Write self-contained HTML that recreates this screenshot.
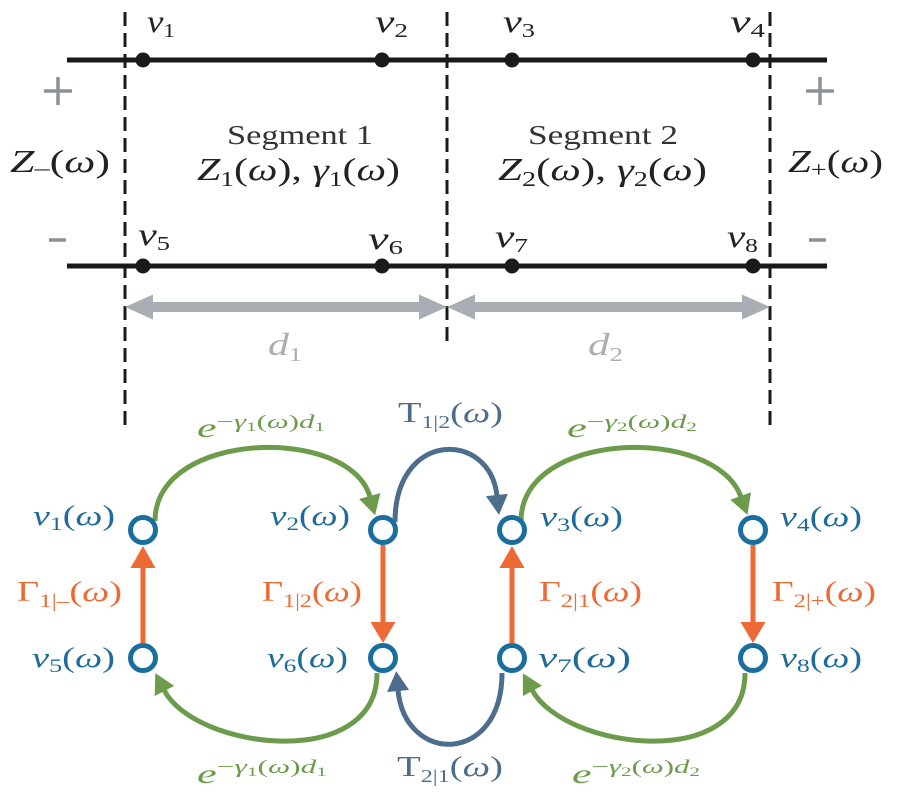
<!DOCTYPE html>
<html>
<head>
<meta charset="utf-8">
<style>
html,body{margin:0;padding:0;background:#fff;}
svg{display:block}
text{font-family:"Liberation Serif","DejaVu Serif",serif;}
.i{font-style:italic}
</style>
</head>
<body>
<svg width="900" height="800" viewBox="0 0 900 800" xmlns="http://www.w3.org/2000/svg">
<defs>
  <marker id="ag" markerUnits="userSpaceOnUse" markerWidth="22" markerHeight="22" viewBox="0 0 20 22" refX="1" refY="11" orient="auto">
    <path d="M0,0 L20,11 L0,22 z" fill="#6b9b4b"/>
  </marker>
  <marker id="ab" markerUnits="userSpaceOnUse" markerWidth="22" markerHeight="22" viewBox="0 0 20 22" refX="1" refY="11" orient="auto">
    <path d="M0,0 L20,11 L0,22 z" fill="#4d6d8d"/>
  </marker>
</defs>

<!-- dashed dividers -->
<line x1="125" y1="12" x2="125" y2="425" stroke="#1a1a1a" stroke-width="3" stroke-dasharray="14 7"/>
<line x1="447" y1="12" x2="447" y2="348" stroke="#1a1a1a" stroke-width="3" stroke-dasharray="14 7"/>
<line x1="770" y1="12" x2="770" y2="425" stroke="#1a1a1a" stroke-width="3" stroke-dasharray="14 7"/>

<!-- transmission lines -->
<line x1="67" y1="60" x2="827" y2="60" stroke="#1a1a1a" stroke-width="5"/>
<line x1="67" y1="266" x2="827" y2="266" stroke="#1a1a1a" stroke-width="5"/>
<g fill="#1a1a1a">
  <circle cx="143" cy="60" r="7.5"/><circle cx="382" cy="60" r="7.5"/>
  <circle cx="512" cy="60" r="7.5"/><circle cx="753" cy="60" r="7.5"/>
  <circle cx="143" cy="266" r="7.5"/><circle cx="382" cy="266" r="7.5"/>
  <circle cx="512" cy="266" r="7.5"/><circle cx="753" cy="266" r="7.5"/>
</g>

<!-- + and - signs -->
<g stroke="#8c9196" stroke-width="3.5">
  <line x1="44" y1="91" x2="72" y2="91"/><line x1="58" y1="77" x2="58" y2="105"/>
  <line x1="806" y1="91" x2="834" y2="91"/><line x1="820" y1="77" x2="820" y2="105"/>
  <line x1="49" y1="240" x2="66" y2="240"/>
  <line x1="809" y1="240" x2="826" y2="240"/>
</g>

<!-- gray double arrows -->
<polygon fill="#a9aeb4" points="125,307 153,294.5 153,302 419,302 419,294.5 447,307 419,319.5 419,312 153,312 153,319.5"/>
<polygon fill="#a9aeb4" points="447,307 475,294.5 475,302 742,302 742,294.5 770,307 742,319.5 742,312 475,312 475,319.5"/>

<!-- top labels v1..v8 -->
<g fill="#222">
  <text x="147" y="32" textLength="28" lengthAdjust="spacingAndGlyphs"><tspan class="i" font-size="32">v</tspan><tspan font-size="20" dy="5">1</tspan></text>
  <text x="375" y="32" textLength="33" lengthAdjust="spacingAndGlyphs"><tspan class="i" font-size="32">v</tspan><tspan font-size="20" dy="5">2</tspan></text>
  <text x="503" y="32" textLength="32" lengthAdjust="spacingAndGlyphs"><tspan class="i" font-size="32">v</tspan><tspan font-size="20" dy="5">3</tspan></text>
  <text x="730" y="32" textLength="35" lengthAdjust="spacingAndGlyphs"><tspan class="i" font-size="32">v</tspan><tspan font-size="20" dy="5">4</tspan></text>
  <text x="138" y="245" textLength="32" lengthAdjust="spacingAndGlyphs"><tspan class="i" font-size="32">v</tspan><tspan font-size="20" dy="5">5</tspan></text>
  <text x="368" y="249" textLength="35" lengthAdjust="spacingAndGlyphs"><tspan class="i" font-size="32">v</tspan><tspan font-size="20" dy="5">6</tspan></text>
  <text x="495" y="247" textLength="33" lengthAdjust="spacingAndGlyphs"><tspan class="i" font-size="32">v</tspan><tspan font-size="20" dy="5">7</tspan></text>
  <text x="727" y="247" textLength="31" lengthAdjust="spacingAndGlyphs"><tspan class="i" font-size="32">v</tspan><tspan font-size="20" dy="5">8</tspan></text>

  <text x="10" y="172" font-size="32" textLength="100" lengthAdjust="spacingAndGlyphs"><tspan class="i">Z</tspan><tspan font-size="22" dy="3">–</tspan><tspan dy="-3">(</tspan><tspan class="i">ω</tspan><tspan>)</tspan></text>
  <text x="788" y="172" font-size="32" textLength="95" lengthAdjust="spacingAndGlyphs"><tspan class="i">Z</tspan><tspan font-size="22" dy="5">+</tspan><tspan dy="-5">(</tspan><tspan class="i">ω</tspan><tspan>)</tspan></text>

  <text x="227" y="144" font-size="27" fill="#333" textLength="146" lengthAdjust="spacingAndGlyphs">Segment 1</text>
  <text x="528" y="144" font-size="27" fill="#333" textLength="150" lengthAdjust="spacingAndGlyphs">Segment 2</text>

  <text x="197" y="180" font-size="32" textLength="203" lengthAdjust="spacingAndGlyphs"><tspan class="i">Z</tspan><tspan font-size="21" dy="6">1</tspan><tspan dy="-6">(</tspan><tspan class="i">ω</tspan><tspan>), </tspan><tspan class="i">γ</tspan><tspan font-size="21" dy="6">1</tspan><tspan dy="-6">(</tspan><tspan class="i">ω</tspan><tspan>)</tspan></text>
  <text x="498" y="180" font-size="32" textLength="209" lengthAdjust="spacingAndGlyphs"><tspan class="i">Z</tspan><tspan font-size="21" dy="6">2</tspan><tspan dy="-6">(</tspan><tspan class="i">ω</tspan><tspan>), </tspan><tspan class="i">γ</tspan><tspan font-size="21" dy="6">2</tspan><tspan dy="-6">(</tspan><tspan class="i">ω</tspan><tspan>)</tspan></text>
</g>

<!-- d labels -->
<g fill="#a9aeb4">
  <text x="268" y="355" textLength="34" lengthAdjust="spacingAndGlyphs"><tspan class="i" font-size="32">d</tspan><tspan font-size="20" dy="6">1</tspan></text>
  <text x="588" y="355" textLength="35" lengthAdjust="spacingAndGlyphs"><tspan class="i" font-size="32">d</tspan><tspan font-size="20" dy="6">2</tspan></text>
</g>

<!-- arcs -->
<g fill="none" stroke-width="5">
  <path d="M155,521 C155,430 350,425 370,497" stroke="#6b9b4b" marker-end="url(#ag)"/>
  <path d="M521,521 C521,430 715,425 741,497" stroke="#6b9b4b" marker-end="url(#ag)"/>
  <path d="M395,522 C395,430 490,430 497,496" stroke="#4d6d8d" marker-end="url(#ab)"/>
  <path d="M377,673 C377,772 195,750 164,690" stroke="#6b9b4b" marker-end="url(#ag)"/>
  <path d="M502,673 C502,765 405,765 398,690" stroke="#4d6d8d" marker-end="url(#ab)"/>
  <path d="M745,673 C745,772 565,750 532,690" stroke="#6b9b4b" marker-end="url(#ag)"/>
</g>

<!-- orange arrows -->
<g stroke="#ec6a36" stroke-width="5">
  <line x1="143" y1="643" x2="143" y2="566"/>
  <line x1="383" y1="545" x2="383" y2="624"/>
  <line x1="512" y1="643" x2="512" y2="566"/>
  <line x1="753" y1="545" x2="753" y2="624"/>
</g>
<g fill="#ec6a36">
  <polygon points="143,546 130.5,568 155.5,568"/>
  <polygon points="383,643 370.5,622 395.5,622"/>
  <polygon points="512,546 499.5,568 524.5,568"/>
  <polygon points="753,643 740.5,622 765.5,622"/>
</g>

<!-- nodes -->
<g fill="#fff" stroke="#1a6e9e" stroke-width="5">
  <circle cx="143" cy="530" r="12.5"/><circle cx="383" cy="530" r="12.5"/>
  <circle cx="512" cy="530" r="12.5"/><circle cx="753" cy="530" r="12.5"/>
  <circle cx="143" cy="658" r="12.5"/><circle cx="383" cy="658" r="12.5"/>
  <circle cx="512" cy="658" r="12.5"/><circle cx="753" cy="658" r="12.5"/>
</g>

<!-- node labels -->
<g fill="#1f6b9b" font-size="28">
  <text x="33" y="525" textLength="82" lengthAdjust="spacingAndGlyphs"><tspan class="i">v</tspan><tspan font-size="19" dy="5">1</tspan><tspan dy="-5">(</tspan><tspan class="i">ω</tspan><tspan>)</tspan></text>
  <text x="270" y="525" textLength="80" lengthAdjust="spacingAndGlyphs"><tspan class="i">v</tspan><tspan font-size="19" dy="5">2</tspan><tspan dy="-5">(</tspan><tspan class="i">ω</tspan><tspan>)</tspan></text>
  <text x="540" y="526" textLength="83" lengthAdjust="spacingAndGlyphs"><tspan class="i">v</tspan><tspan font-size="19" dy="5">3</tspan><tspan dy="-5">(</tspan><tspan class="i">ω</tspan><tspan>)</tspan></text>
  <text x="780" y="526" textLength="82" lengthAdjust="spacingAndGlyphs"><tspan class="i">v</tspan><tspan font-size="19" dy="5">4</tspan><tspan dy="-5">(</tspan><tspan class="i">ω</tspan><tspan>)</tspan></text>
  <text x="32" y="667" textLength="83" lengthAdjust="spacingAndGlyphs"><tspan class="i">v</tspan><tspan font-size="19" dy="5">5</tspan><tspan dy="-5">(</tspan><tspan class="i">ω</tspan><tspan>)</tspan></text>
  <text x="267" y="667" textLength="81" lengthAdjust="spacingAndGlyphs"><tspan class="i">v</tspan><tspan font-size="19" dy="5">6</tspan><tspan dy="-5">(</tspan><tspan class="i">ω</tspan><tspan>)</tspan></text>
  <text x="538" y="667" textLength="93" lengthAdjust="spacingAndGlyphs"><tspan class="i">v</tspan><tspan font-size="19" dy="5">7</tspan><tspan dy="-5">(</tspan><tspan class="i">ω</tspan><tspan>)</tspan></text>
  <text x="780" y="667" textLength="82" lengthAdjust="spacingAndGlyphs"><tspan class="i">v</tspan><tspan font-size="19" dy="5">8</tspan><tspan dy="-5">(</tspan><tspan class="i">ω</tspan><tspan>)</tspan></text>
</g>

<!-- Gamma labels -->
<g fill="#ec6a36" font-size="29">
  <text x="17" y="601" textLength="105" lengthAdjust="spacingAndGlyphs"><tspan>Γ</tspan><tspan font-size="19" dy="6">1|–</tspan><tspan dy="-6">(</tspan><tspan class="i">ω</tspan><tspan>)</tspan></text>
  <text x="262" y="601" textLength="100" lengthAdjust="spacingAndGlyphs"><tspan>Γ</tspan><tspan font-size="19" dy="6">1|2</tspan><tspan dy="-6">(</tspan><tspan class="i">ω</tspan><tspan>)</tspan></text>
  <text x="539" y="601" textLength="103" lengthAdjust="spacingAndGlyphs"><tspan>Γ</tspan><tspan font-size="19" dy="6">2|1</tspan><tspan dy="-6">(</tspan><tspan class="i">ω</tspan><tspan>)</tspan></text>
  <text x="772" y="601" textLength="104" lengthAdjust="spacingAndGlyphs"><tspan>Γ</tspan><tspan font-size="19" dy="6">2|+</tspan><tspan dy="-6">(</tspan><tspan class="i">ω</tspan><tspan>)</tspan></text>
</g>

<!-- green exp labels -->
<g fill="#6b9b4b">
  <text x="197" y="437" textLength="128" lengthAdjust="spacingAndGlyphs"><tspan class="i" font-size="27">e</tspan><tspan font-size="19" dy="-9">−</tspan><tspan class="i" font-size="19">γ</tspan><tspan font-size="13" dy="3">1</tspan><tspan font-size="19" dy="-3">(</tspan><tspan class="i" font-size="19">ω</tspan><tspan font-size="19">)</tspan><tspan class="i" font-size="19">d</tspan><tspan font-size="13" dy="3">1</tspan></text>
  <text x="567" y="437" textLength="130" lengthAdjust="spacingAndGlyphs"><tspan class="i" font-size="27">e</tspan><tspan font-size="19" dy="-9">−</tspan><tspan class="i" font-size="19">γ</tspan><tspan font-size="13" dy="3">2</tspan><tspan font-size="19" dy="-3">(</tspan><tspan class="i" font-size="19">ω</tspan><tspan font-size="19">)</tspan><tspan class="i" font-size="19">d</tspan><tspan font-size="13" dy="3">2</tspan></text>
  <text x="197" y="783" textLength="130" lengthAdjust="spacingAndGlyphs"><tspan class="i" font-size="27">e</tspan><tspan font-size="19" dy="-10">−</tspan><tspan class="i" font-size="19">γ</tspan><tspan font-size="13" dy="3">1</tspan><tspan font-size="19" dy="-3">(</tspan><tspan class="i" font-size="19">ω</tspan><tspan font-size="19">)</tspan><tspan class="i" font-size="19">d</tspan><tspan font-size="13" dy="3">1</tspan></text>
  <text x="572" y="783" textLength="128" lengthAdjust="spacingAndGlyphs"><tspan class="i" font-size="27">e</tspan><tspan font-size="19" dy="-10">−</tspan><tspan class="i" font-size="19">γ</tspan><tspan font-size="13" dy="3">2</tspan><tspan font-size="19" dy="-3">(</tspan><tspan class="i" font-size="19">ω</tspan><tspan font-size="19">)</tspan><tspan class="i" font-size="19">d</tspan><tspan font-size="13" dy="3">2</tspan></text>
</g>

<!-- T labels -->
<g fill="#4d6d8d" font-size="29">
  <text x="398" y="422" textLength="105" lengthAdjust="spacingAndGlyphs"><tspan>T</tspan><tspan font-size="18" dy="6">1|2</tspan><tspan dy="-6">(</tspan><tspan class="i">ω</tspan><tspan>)</tspan></text>
  <text x="397" y="776" textLength="106" lengthAdjust="spacingAndGlyphs"><tspan>T</tspan><tspan font-size="18" dy="6">2|1</tspan><tspan dy="-6">(</tspan><tspan class="i">ω</tspan><tspan>)</tspan></text>
</g>
</svg>
</body>
</html>
